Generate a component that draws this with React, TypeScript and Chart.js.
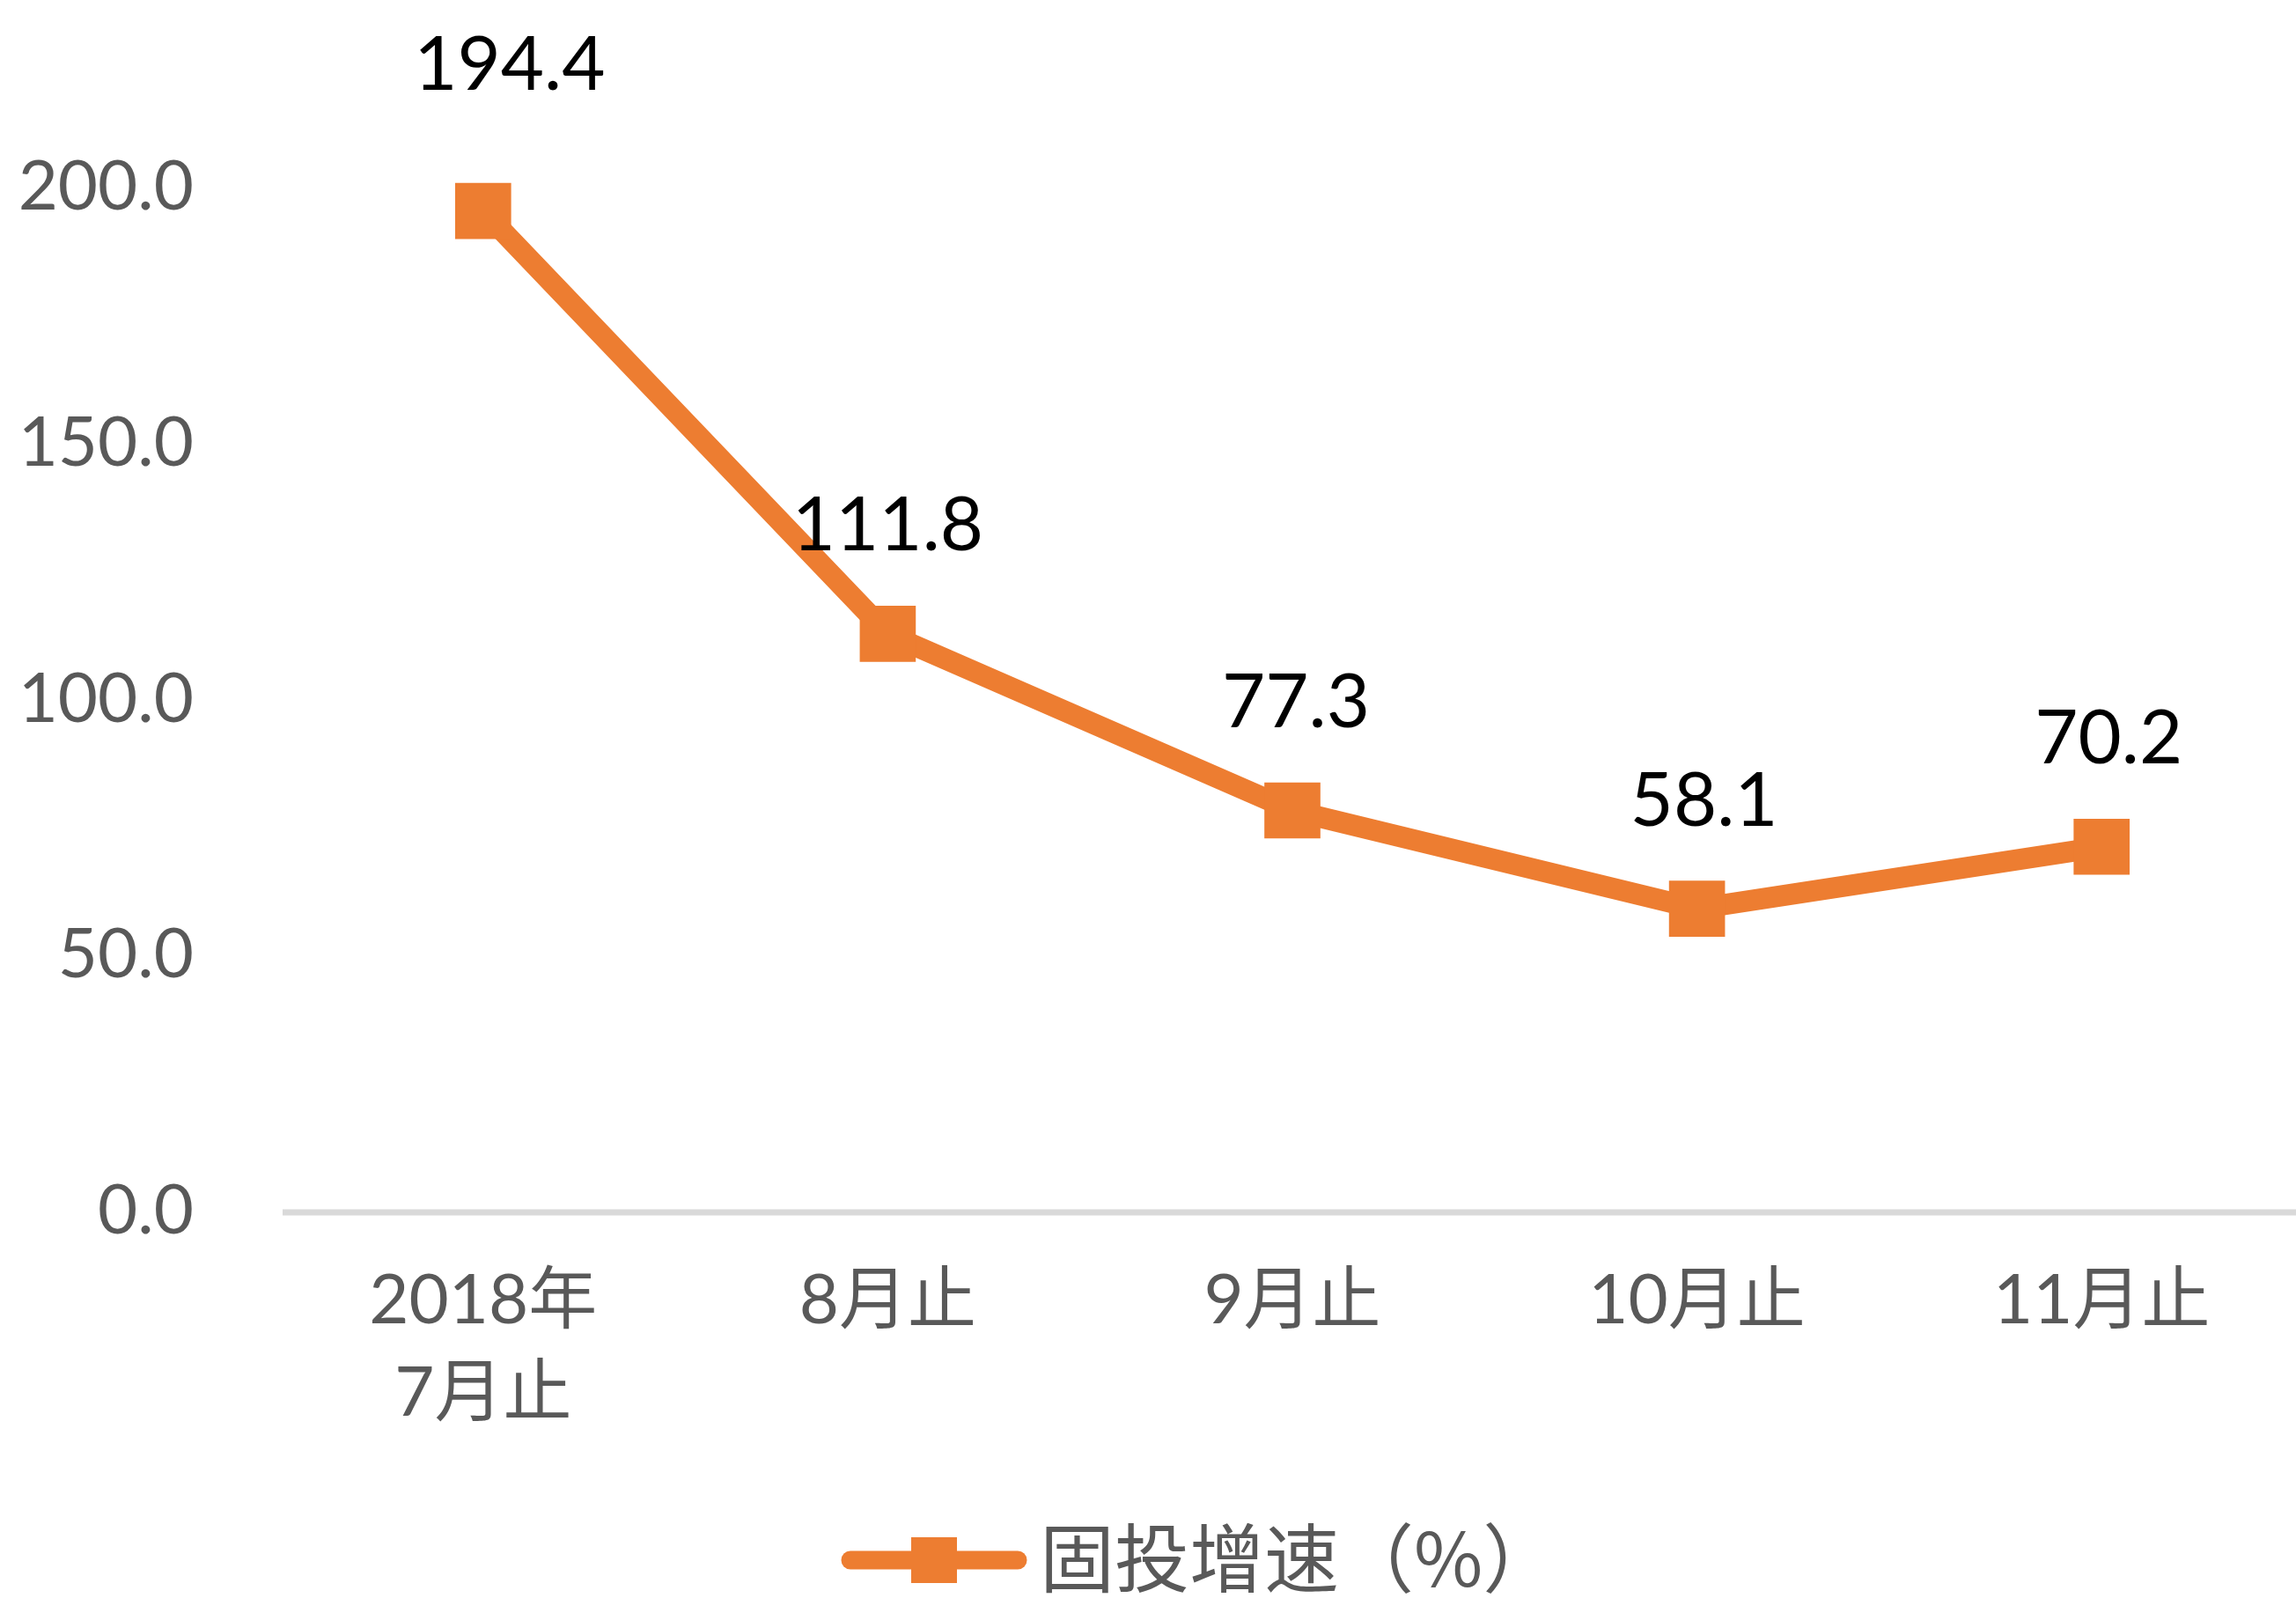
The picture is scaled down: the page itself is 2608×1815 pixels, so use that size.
import React, { useEffect, useRef } from "react";
import { Chart, registerables } from "chart.js";

Chart.register(...registerables);

// ---- data ----
const CATEGORIES: (string | string[])[] = [["2018年", "7月止"], "8月止", "9月止", "10月止", "11月止"];
const VALUES = [194.4, 111.8, 77.3, 58.1, 70.2];
const SERIES_NAME = "固投增速（%）";
const Y_MIN = 0;
const Y_MAX = 200;
const Y_STEP = 50;

// ---- styles ----
const ORANGE = "#ED7D31";
const GREY_TEXT = "#595959";
const AXIS_GREY = "#D9D9D9";
const LATIN = "Lato, 'Noto Sans CJK SC', sans-serif";
const CJK = "'Noto Sans CJK SC', sans-serif";
const W = 2620;
const H = 1815;
// label placement tweaks (styling only)
const LABEL_RISE = 122;
const LABEL_NUDGE = [
  { dx: 30, dy: -43 },
  { dx: 0, dy: 0 },
  { dx: 4, dy: 0 },
  { dx: 8, dy: 0 },
  { dx: 8, dy: 0 },
];

const axisLinePlugin = {
  id: "axisLine",
  beforeDatasetsDraw(chart: any) {
    const ctx = chart.ctx;
    const y = chart.chartArea.bottom + 7;
    ctx.save();
    ctx.strokeStyle = AXIS_GREY;
    ctx.lineWidth = 7;
    ctx.beginPath();
    ctx.moveTo(chart.chartArea.left + 2, y);
    ctx.lineTo(chart.width, y);
    ctx.stroke();
    ctx.restore();
  },
};

const dataLabelPlugin = {
  id: "dataLabels",
  afterDatasetsDraw(chart: any) {
    const ctx = chart.ctx;
    const meta = chart.getDatasetMeta(0);
    ctx.save();
    ctx.font = `85px ${LATIN}`;
    ctx.fillStyle = "#000000";
    ctx.textAlign = "center";
    ctx.textBaseline = "middle";
    meta.data.forEach((pt: any, i: number) => {
      const n = LABEL_NUDGE[i] || { dx: 0, dy: 0 };
      ctx.fillText(VALUES[i].toFixed(1), pt.x + n.dx, pt.y - LABEL_RISE + n.dy);
    });
    ctx.restore();
  },
};

const legendPlugin = {
  id: "customLegend",
  afterDraw(chart: any) {
    const ctx = chart.ctx;
    const cy = 1772;
    ctx.save();
    ctx.strokeStyle = ORANGE;
    ctx.lineWidth = 21;
    ctx.lineCap = "round";
    ctx.beginPath();
    ctx.moveTo(966, cy);
    ctx.lineTo(1156, cy);
    ctx.stroke();
    ctx.fillStyle = ORANGE;
    ctx.fillRect(1061 - 26, cy - 26, 52, 52);
    ctx.fillStyle = GREY_TEXT;
    ctx.font = `85px ${CJK}`;
    ctx.textAlign = "left";
    ctx.textBaseline = "middle";
    ctx.fillText(SERIES_NAME, 1181, cy - 2);
    ctx.restore();
  },
};

export default function App() {
  const ref = useRef<HTMLCanvasElement | null>(null);

  useEffect(() => {
    if (!ref.current) return;
    const chart = new Chart(ref.current, {
      type: "line",
      data: {
        labels: CATEGORIES as any,
        datasets: [
          {
            label: SERIES_NAME,
            data: VALUES,
            borderColor: ORANGE,
            backgroundColor: ORANGE,
            borderWidth: 24,
            borderJoinStyle: "round",
            tension: 0,
            pointStyle: "rect",
            pointRadius: 45,
            pointHoverRadius: 45,
            pointBorderWidth: 0,
            pointBackgroundColor: ORANGE,
            clip: false as any,
          },
        ],
      },
      plugins: [axisLinePlugin, dataLabelPlugin, legendPlugin],
      options: {
        animation: false,
        responsive: false,
        maintainAspectRatio: false,
        devicePixelRatio: 1,
        layout: { autoPadding: false, padding: { top: 207, right: 3, bottom: 0, left: 0 } },
        plugins: {
          legend: { display: false },
          tooltip: { enabled: false },
          title: { display: false },
        },
        scales: {
          x: {
            offset: true,
            grid: { display: false, drawTicks: false },
            border: { display: false },
            ticks: {
              color: GREY_TEXT,
              padding: 55,
              maxRotation: 0,
              autoSkip: false,
              font: { family: LATIN, size: 78, lineHeight: 1.35 },
            },
            afterFit: (s: any) => {
              s.height = 445;
              s.paddingLeft = 0;
              s.paddingRight = 0;
            },
          },
          y: {
            min: Y_MIN,
            max: Y_MAX,
            grid: { display: false, drawTicks: false },
            border: { display: false },
            ticks: {
              stepSize: Y_STEP,
              color: GREY_TEXT,
              padding: 99,
              labelOffset: 6,
              font: { family: LATIN, size: 78 },
              callback: (v: any) => Number(v).toFixed(1),
            },
            afterFit: (s: any) => {
              s.width = 319;
              s.paddingTop = 0;
              s.paddingBottom = 0;
            },
          },
        },
      },
    });
    return () => chart.destroy();
  }, []);

  return (
    <div
      style={{
        position: "fixed",
        left: 0,
        top: 0,
        width: W,
        height: H,
        overflow: "hidden",
        background: "#ffffff",
      }}
    >
      <canvas ref={ref} width={W} height={H} style={{ display: "block", width: W, height: H }} />
    </div>
  );
}
